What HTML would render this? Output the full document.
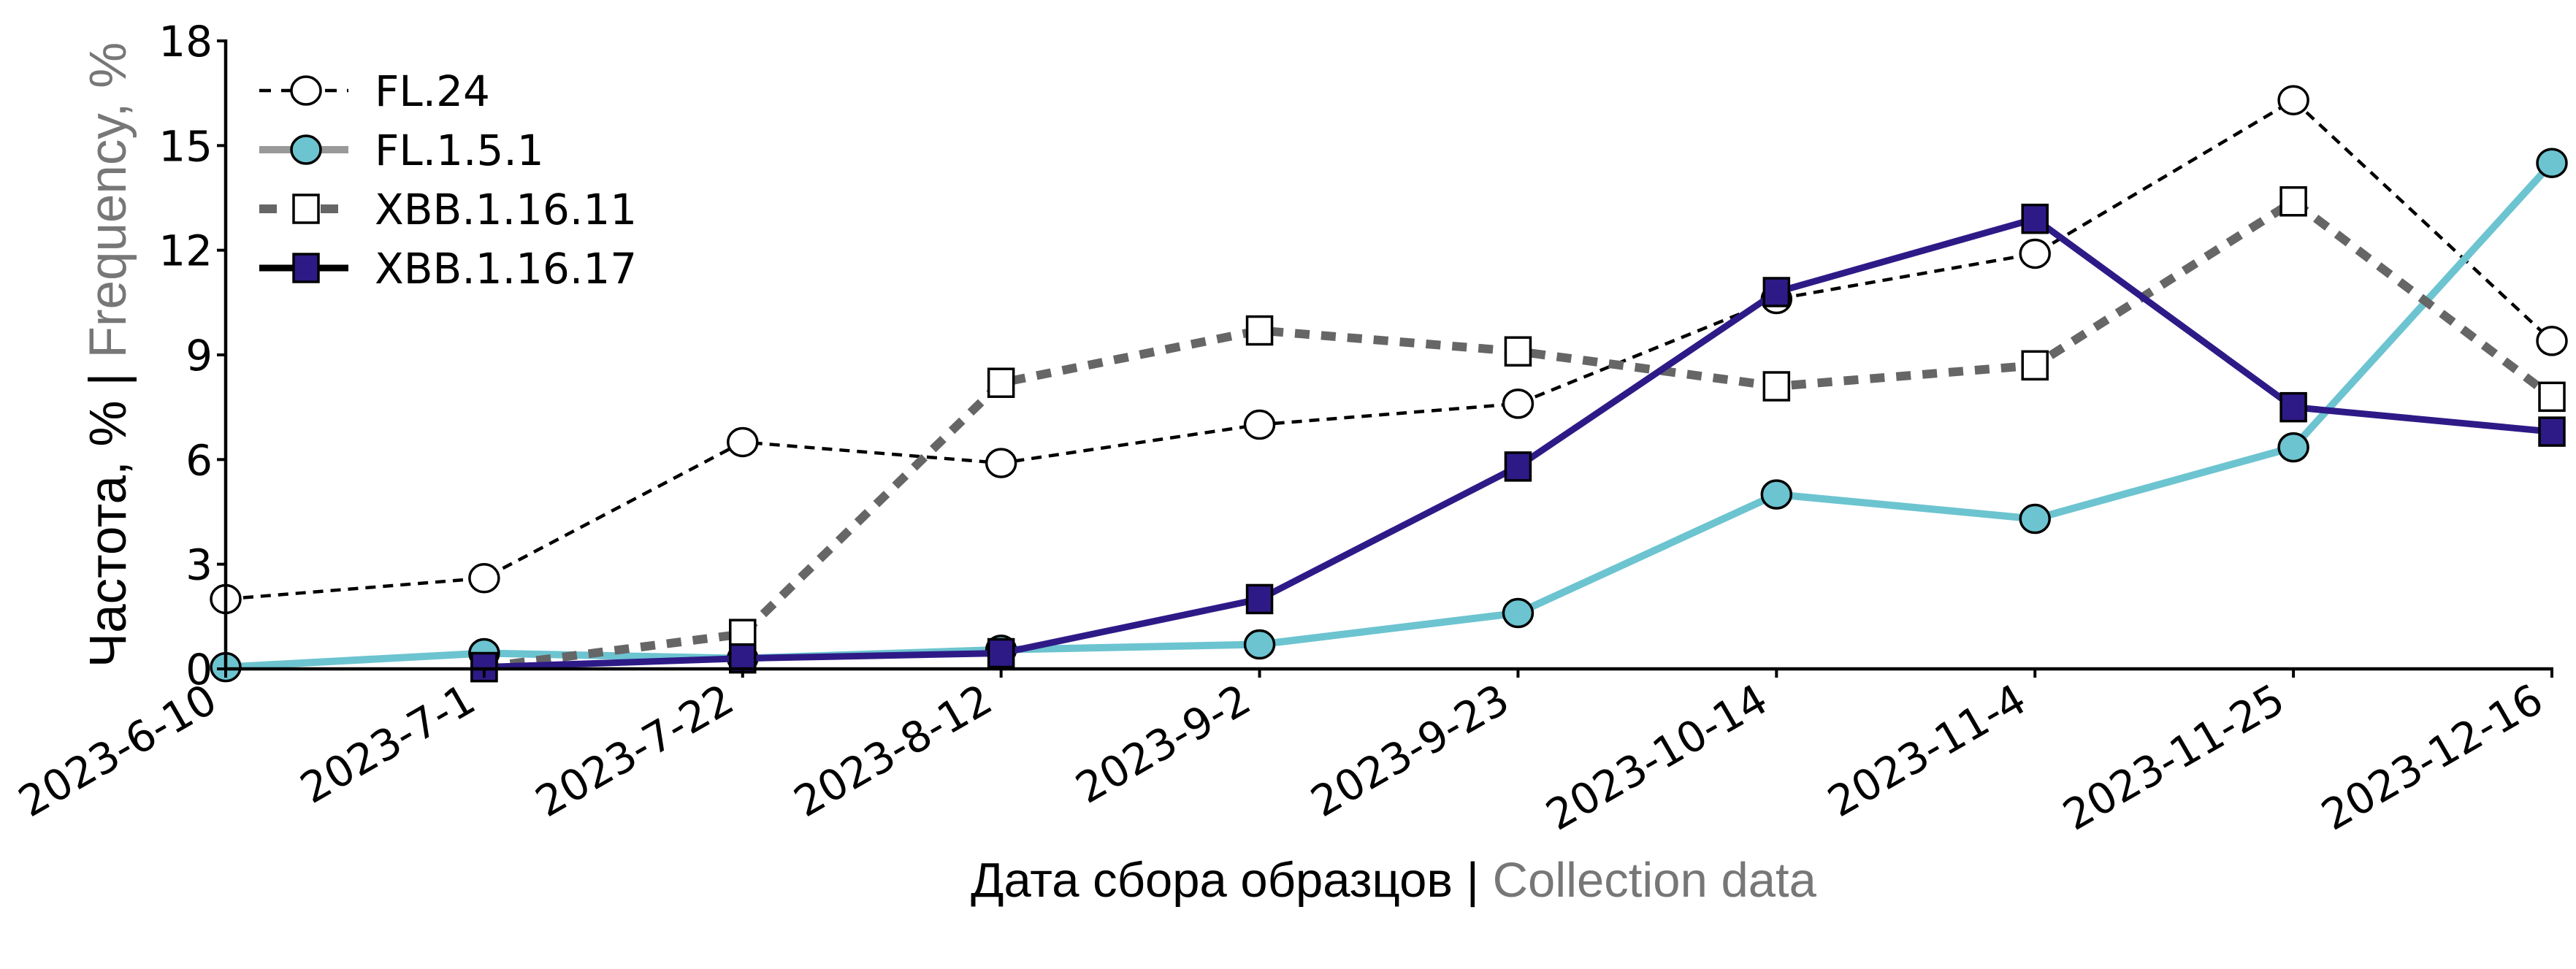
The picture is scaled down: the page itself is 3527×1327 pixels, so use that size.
<!DOCTYPE html>
<html><head><meta charset="utf-8"><style>
html,body{margin:0;padding:0;background:#fff;}
svg{display:block;font-family:"DejaVu Sans","Liberation Sans",sans-serif;}
</style></head><body>
<svg id="chart" width="3527" height="1327" viewBox="0 0 3527 1327" xmlns="http://www.w3.org/2000/svg">
<rect width="3527" height="1327" fill="#fff"/>
<g id="series"></g>
<g id="axes"></g>
<g id="legend"></g>
<text transform="translate(172,486) rotate(-90)" text-anchor="middle" font-size="71" font-family="Liberation Sans, sans-serif"><tspan fill="#000">Частота, % | </tspan><tspan fill="#777">Frequency, %</tspan></text>
<text x="1908" y="1228" text-anchor="middle" font-size="67" font-family="Liberation Sans, sans-serif"><tspan fill="#000">Дата сбора образцов | </tspan><tspan fill="#777">Collection data</tspan></text>
</svg>
<script>
const categories = ["2023-6-10","2023-7-1","2023-7-22","2023-8-12","2023-9-2","2023-9-23","2023-10-14","2023-11-4","2023-11-25","2023-12-16"];
const yTicks = [0,3,6,9,12,15,18];
const seriesNames = ["FL.24","FL.1.5.1","XBB.1.16.11","XBB.1.16.17"];
const fl24 = [2.0,2.6,6.5,5.9,7.0,7.6,10.6,11.9,16.3,9.4];
const fl151 = [0.05,0.45,0.3,0.55,0.7,1.6,5.0,4.3,6.35,14.5];
const xbb1611 = [null,0.05,1.0,8.2,9.7,9.1,8.1,8.7,13.4,7.8];
const xbb1617 = [null,0.05,0.3,0.45,2.0,5.8,10.8,12.9,7.5,6.8];

const NS = "http://www.w3.org/2000/svg";
const X0 = 309, X1 = 3494, Y0 = 916, Y1 = 56;
const xs = i => X0 + (X1 - X0) * i / (categories.length - 1);
const ys = v => Y0 - (Y0 - Y1) * v / 18;
function mk(tag, attrs, parent){ const e=document.createElementNS(NS,tag); for(const k in attrs) e.setAttribute(k,attrs[k]); parent.appendChild(e); return e; }

const styles = [
  {data:fl24, stroke:"#000", width:4.5, dash:"14 10", marker:"circle", fill:"#fff", name:"series-fl-24"},
  {data:fl151, stroke:"#6cc4d0", width:10, dash:null, marker:"circle", fill:"#6cc4d0", name:"series-fl-1-5-1", legendStroke:"#999"},
  {data:xbb1611, stroke:"#666", width:12, dash:"20 16", marker:"square", fill:"#fff", name:"series-xbb-1-16-11"},
  {data:xbb1617, stroke:"#2e1a87", width:9, dash:null, marker:"square", fill:"#2e1a87", name:"series-xbb-1-16-17", legendStroke:"#000"}
];
const sg = document.getElementById("series");
function marker(g, type, cx, cy, fill, r){
  let e;
  if(type==="circle"){ e=mk("ellipse",{cx:cx,cy:cy,rx:r,ry:r*0.95,fill:fill,stroke:"#000","stroke-width":3.5},g); }
  else { e=mk("rect",{x:cx-r*0.85,y:cy-r*0.95,width:r*1.7,height:r*1.9,fill:fill,stroke:"#000","stroke-width":3.5},g); }
  return e;
}
styles.forEach(s=>{
  const g = mk("g",{},sg);
  
  
  const pts=[]; s.data.forEach((v,i)=>{ if(v!==null) pts.push([xs(i),ys(v)]); });
  const line = mk("polyline",{points:pts.map(p=>p.join(",")).join(" "),fill:"none",stroke:s.stroke,"stroke-width":s.width,"stroke-linejoin":"round"},g);
  if(s.dash) line.setAttribute("stroke-dasharray",s.dash);
  
  
  pts.forEach(p=>{
    const m = marker(g,s.marker,p[0],p[1],s.fill,20);
    
    
  });
});

const ax = document.getElementById("axes");
const yl = mk("line",{x1:X0,y1:Y1-2,x2:X0,y2:Y0+2,stroke:"#000","stroke-width":4.5},ax);


const xl = mk("line",{x1:X0,y1:Y0,x2:X1+2,y2:Y0,stroke:"#000","stroke-width":4.5},ax);


yTicks.forEach(v=>{
  mk("line",{x1:X0-12,y1:ys(v),x2:X0,y2:ys(v),stroke:"#000","stroke-width":4},ax);
  const t = mk("text",{x:X0-18,y:ys(v)+21,"text-anchor":"end","font-size":58},ax);
  t.textContent = v;
  
  
});
categories.forEach((c,i)=>{
  mk("line",{x1:xs(i),y1:Y0,x2:xs(i),y2:Y0+12,stroke:"#000","stroke-width":4},ax);
  const t = mk("text",{transform:`translate(${xs(i)-8},${Y0+54}) rotate(-30)`,"text-anchor":"end","font-size":58},ax);
  t.textContent = c;
  
  
});

const lg = document.getElementById("legend");
styles.forEach((s,i)=>{
  const y = 124 + i*81;
  const g = mk("g",{},lg);
  
  
  const ln = mk("line",{x1:355,y1:y,x2:477,y2:y,stroke:s.legendStroke||s.stroke,"stroke-width":s.width},g);
  if(s.dash) ln.setAttribute("stroke-dasharray", s.marker==="circle" ? "16 14" : "24 60");
  marker(g,s.marker,419,y,s.fill,20);
  const t = mk("text",{x:513,y:y+21,"font-size":58},g);
  t.textContent = seriesNames[i];
});
</script>
</body></html>
